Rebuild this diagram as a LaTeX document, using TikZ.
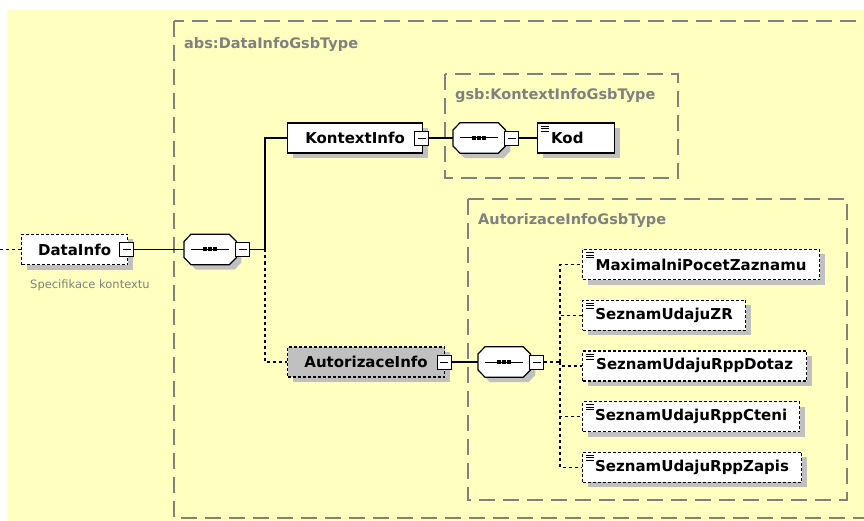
\documentclass[tikz,border=0pt]{standalone}
\usepackage{fontspec}
\setmainfont{DejaVu Sans}
\usepackage{xcolor}
\usepackage{tikz}
\usetikzlibrary{shadows, positioning}
\definecolor{xsdyellow}{RGB}{255,255,192}
\definecolor{xsdgrey}{RGB}{128,128,128}
\definecolor{xsdshade}{RGB}{192,192,192}

% octagon outline of a sequence compositor node
\newcommand{\octpath}[1]{([yshift=8pt]#1.west) -- ([xshift=7pt]#1.north west) -- ([xshift=-7pt]#1.north east) -- ([yshift=8pt]#1.east)
    -- ([yshift=-8pt]#1.east) -- ([xshift=-7pt]#1.south east) -- ([xshift=7pt]#1.south west) -- ([yshift=-8pt]#1.west) -- cycle}
\newcommand{\seqdraw}[1]{%
    \fill[xsdshade, transform canvas={xshift=5pt, yshift=-5pt}] \octpath{#1};
    \draw[line width=1.2pt, fill=white] \octpath{#1};
    \draw[line width=1pt] ([xshift=7pt]#1.west) -- ([xshift=-7pt]#1.east);
    \foreach \dx in {-5,0,5}
        \fill ([xshift=\dx pt]#1.center) +(-2pt,-2pt) rectangle +(2pt,2pt);}

\begin{document}
\begin{tikzpicture}[
    x=1pt, y=-1pt,
    elem/.style={rectangle, draw=black, line width=1.2pt, fill=white, minimum width=#1, minimum height=30pt, anchor=west,
        font=\bfseries\fontsize{15}{18}\selectfont,
        drop shadow={shadow xshift=5pt, shadow yshift=-5pt, fill=xsdshade, opacity=1}},
    optelem/.style={elem=#1, dash pattern=on 3pt off 2pt},
    leaf/.style={path picture={
        \foreach \dy in {3,5.5,8}
            \draw[solid, line width=0.8pt] ([xshift=3pt, yshift=-\dy pt]path picture bounding box.north west) -- ++(8pt,0);}},
    minusbox/.style={rectangle, draw=black, solid, line width=0.8pt, fill=white, minimum size=14pt, inner sep=0pt,
        path picture={\draw[line width=0.8pt] ([xshift=3pt]path picture bounding box.west) -- ([xshift=-3pt]path picture bounding box.east);}},
    seqbox/.style={rectangle, minimum width=52pt, minimum height=30pt, inner sep=0pt, anchor=west},
    typebox/.style={draw=xsdgrey, line width=1.5pt, dash pattern=on 16pt off 8pt},
    typetitle/.style={anchor=west, inner sep=0pt, text=xsdgrey, font=\bfseries\fontsize{14.5}{17}\selectfont},
    link/.style={draw=black, line width=1.2pt},
    optlink/.style={link, dash pattern=on 3pt off 3pt}
]
    \useasboundingbox (0,0) rectangle (864,521);
    \clip (0,0) rectangle (864,521);
    \fill[xsdyellow] (7,10) rectangle (864,521);

    % type containers
    \draw[typebox] (174,21) rectangle (870,518);
    \draw[typebox] (445,74) rectangle (678,178);
    \draw[typebox] (468,199) rectangle (847,500);
    \node[typetitle] (abs-title) at (184,45) {abs:DataInfoGsbType};
    \node[typetitle] (gsb-title) at (455,96) {gsb:KontextInfoGsbType};
    \node[typetitle] (aut-title) at (478,221) {AutorizaceInfoGsbType};

    % root element
    \coordinate (entry) at (0,249.5);
    \node[optelem=106pt] (datainfo) at (21,249.5) {DataInfo};
    \node[minusbox] (datainfo-m) at ([xshift=-1.5pt]datainfo.east) {};
    \node[anchor=west, inner sep=0pt, text=xsdgrey, font=\fontsize{11.5}{14}\selectfont] (datainfo-desc) at (30,285) {Specifikace kontextu};

    \node[seqbox] (seq1) at (184,249.5) {};
    \seqdraw{seq1}
    \node[minusbox, anchor=west] (seq1-m) at ([xshift=-1pt]seq1.east) {};
    \coordinate (fork1) at (265,249.5);

    % KontextInfo branch
    \node[elem=135pt] (kontext) at (287,138) {KontextInfo};
    \node[minusbox] (kontext-m) at ([xshift=-1.5pt]kontext.east) {};
    \node[seqbox] (seq2) at (453,138) {};
    \seqdraw{seq2}
    \node[minusbox, anchor=west] (seq2-m) at ([xshift=-1pt]seq2.east) {};
    \node[elem=77pt, leaf, text width=50pt, align=left, inner xsep=13.5pt] (kod) at (537,138) {Kod};

    % AutorizaceInfo branch
    \node[optelem=157pt, fill=xsdshade] (autor) at (287,362) {AutorizaceInfo};
    \node[minusbox] (autor-m) at ([xshift=-1pt]autor.east) {};
    \node[seqbox] (seq3) at (478,362) {};
    \seqdraw{seq3}
    \node[minusbox, anchor=west] (seq3-m) at ([xshift=-1pt]seq3.east) {};
    \coordinate (fork2) at (560,362);

    \node[optelem=237pt, leaf] (max) at (582,264.5) {MaximalniPocetZaznamu};
    \node[optelem=163pt, leaf, below right=19.5pt and 0pt of max.south west] (zr) {SeznamUdajuZR};
    \node[optelem=224pt, leaf, below right=19.5pt and 0pt of zr.south west] (dotaz) {SeznamUdajuRppDotaz};
    \node[optelem=217pt, leaf, below right=19.5pt and 0pt of dotaz.south west] (cteni) {SeznamUdajuRppCteni};
    \node[optelem=219pt, leaf, below right=19.5pt and 0pt of cteni.south west] (zapis) {SeznamUdajuRppZapis};

    % connectors
    \draw[optlink] (entry) -- (datainfo.west);
    \draw[link] (datainfo-m.east) -- (seq1.west);
    \draw[link] (seq1-m.east) -- (fork1);
    \draw[link] (fork1) |- (kontext.west);
    \draw[optlink] (fork1) |- (autor.west);
    \draw[link] (kontext-m.east) -- (seq2.west);
    \draw[link] (seq2-m.east) -- (kod.west);
    \draw[link] (autor-m.east) -- (seq3.west);
    \draw[optlink] (seq3-m.east) -- (fork2);
    \foreach \child in {max, zr, dotaz, cteni, zapis}
        \draw[optlink] (fork2) |- (\child.west);
\end{tikzpicture}
\end{document}
